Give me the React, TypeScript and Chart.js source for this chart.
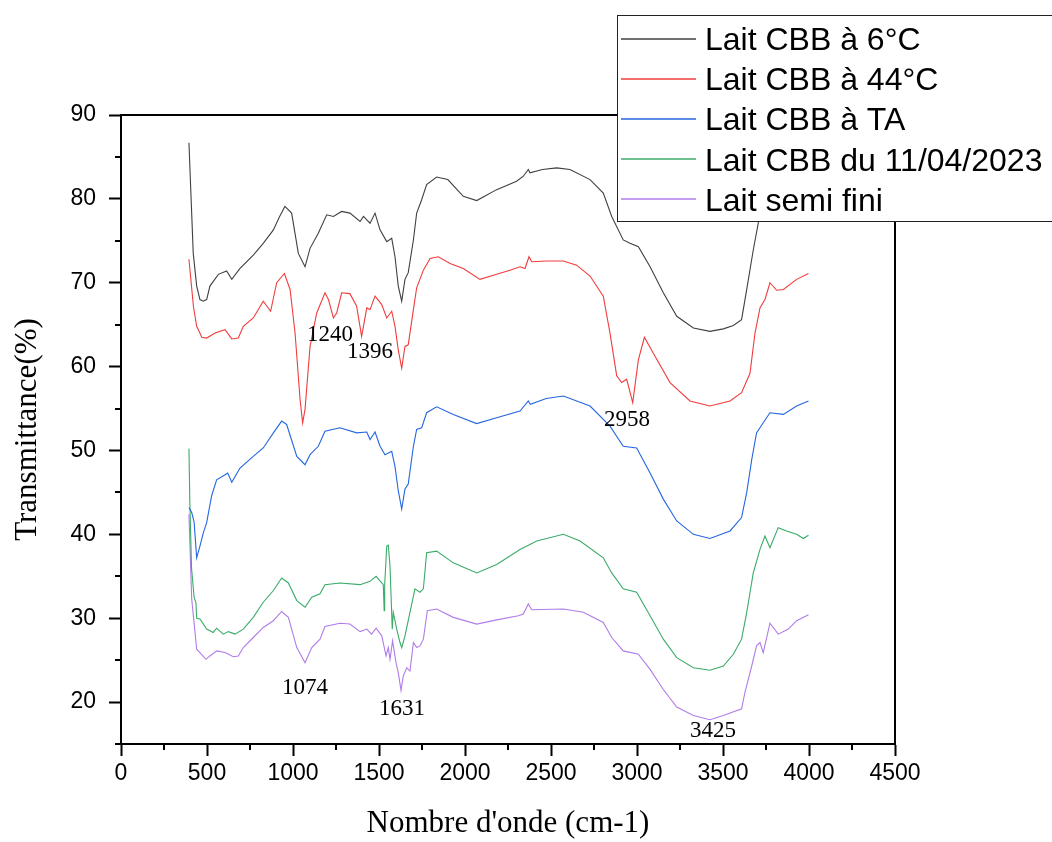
import React, { useEffect, useRef } from "react";
import { Chart, registerables } from "chart.js";

Chart.register(...registerables);

const seriesLabels = [
  "Lait CBB à 6°C",
  "Lait CBB à 44°C",
  "Lait CBB à TA",
  "Lait CBB du 11/04/2023",
  "Lait semi fini",
];
const seriesColors = ["#404040", "#f03c3c", "#2466e0", "#3aab68", "#b07ce8"];

const blackX = [395, 420, 440, 459, 478, 498, 517, 566, 614, 644, 692, 769, 827, 886, 920, 953, 992, 1031, 1070, 1099, 1147, 1196, 1235, 1283, 1331, 1390, 1410, 1429, 1448, 1477, 1506, 1545, 1574, 1593, 1612, 1632, 1651, 1670, 1700, 1719, 1748, 1777, 1835, 1900, 1990, 2068, 2184, 2300, 2339, 2368, 2378, 2450, 2533, 2610, 2727, 2804, 2853, 2920, 2959, 3008, 3076, 3153, 3231, 3328, 3424, 3502, 3560, 3608, 3638, 3676, 3705, 3740, 3780, 3850, 3950, 4000];
const blackY = [86.7, 73.5, 69.6, 68.0, 67.8, 68.0, 69.6, 71.0, 71.4, 70.4, 71.7, 73.3, 74.7, 76.3, 77.8, 79.1, 78.3, 73.5, 71.9, 74.1, 75.9, 78.1, 77.9, 78.5, 78.3, 77.3, 77.9, 77.5, 77.1, 78.3, 76.3, 74.9, 75.3, 73.1, 69.6, 67.8, 70.4, 71.2, 75.1, 78.3, 79.9, 81.7, 82.6, 82.3, 80.3, 79.8, 81.1, 82.1, 82.7, 83.5, 83.1, 83.5, 83.7, 83.5, 82.3, 80.7, 77.9, 75.1, 74.7, 74.3, 71.9, 68.8, 66.0, 64.6, 64.2, 64.5, 64.9, 65.6, 69.2, 73.9, 77.1, 80.5, 82.5, 82.0, 83.0, 83.3];

const redX = [395, 421, 440, 470, 498, 547, 605, 644, 682, 711, 769, 827, 870, 905, 950, 983, 1012, 1041, 1056, 1070, 1099, 1138, 1186, 1206, 1235, 1254, 1283, 1331, 1370, 1399, 1429, 1448, 1477, 1516, 1545, 1574, 1593, 1612, 1632, 1651, 1670, 1700, 1719, 1758, 1797, 1845, 1913, 1990, 2087, 2184, 2262, 2320, 2349, 2372, 2388, 2475, 2572, 2649, 2727, 2804, 2843, 2882, 2911, 2940, 2975, 3008, 3043, 3095, 3192, 3308, 3424, 3541, 3608, 3657, 3686, 3715, 3744, 3773, 3812, 3851, 3928, 3997];
const redY = [72.8, 67.2, 64.8, 63.5, 63.4, 64.0, 64.4, 63.3, 63.4, 64.8, 65.8, 67.8, 66.6, 70.0, 71.1, 69.2, 64.0, 56.1, 53.3, 54.9, 62.4, 66.4, 68.8, 68.0, 65.8, 66.4, 68.8, 68.7, 67.2, 63.6, 67.0, 66.8, 68.4, 67.4, 65.8, 66.6, 64.8, 62.0, 59.8, 62.4, 62.6, 66.8, 69.4, 71.5, 72.9, 73.1, 72.3, 71.7, 70.4, 71.0, 71.5, 71.9, 71.7, 73.1, 72.5, 72.6, 72.6, 72.1, 70.8, 68.4, 64.0, 58.9, 58.1, 58.5, 55.7, 60.8, 63.5, 61.6, 58.1, 55.9, 55.3, 55.9, 56.9, 59.2, 64.0, 67.0, 68.0, 70.0, 69.1, 69.2, 70.4, 71.1];

const blueX = [395, 411, 425, 440, 459, 479, 498, 527, 556, 605, 620, 644, 692, 769, 827, 886, 934, 963, 1022, 1070, 1099, 1147, 1186, 1273, 1370, 1429, 1448, 1477, 1506, 1535, 1574, 1593, 1612, 1632, 1651, 1670, 1700, 1719, 1748, 1777, 1835, 1932, 2068, 2184, 2320, 2368, 2380, 2472, 2572, 2727, 2843, 2920, 2998, 3076, 3153, 3231, 3328, 3424, 3541, 3608, 3638, 3667, 3695, 3734, 3773, 3851, 3928, 3997];
const blueY = [43.2, 42.6, 41.5, 37.2, 38.6, 40.2, 41.4, 44.6, 46.5, 47.1, 47.3, 46.2, 47.9, 49.3, 50.3, 52.1, 53.5, 53.1, 49.3, 48.3, 49.5, 50.5, 52.3, 52.7, 52.1, 52.2, 51.3, 52.2, 50.5, 49.5, 49.9, 48.1, 45.2, 43.0, 45.4, 46.0, 50.5, 52.5, 52.7, 54.5, 55.2, 54.3, 53.2, 53.9, 54.7, 55.9, 55.5, 56.2, 56.5, 55.3, 52.9, 50.5, 50.3, 47.3, 44.2, 41.6, 40.0, 39.5, 40.4, 42.0, 45.0, 48.9, 52.1, 53.3, 54.5, 54.3, 55.3, 55.9];

const greenX = [395, 400, 410, 425, 436, 440, 459, 498, 536, 556, 595, 624, 663, 711, 769, 827, 886, 934, 973, 1022, 1070, 1109, 1157, 1186, 1273, 1390, 1448, 1483, 1525, 1530, 1533, 1545, 1554, 1564, 1577, 1583, 1603, 1622, 1632, 1651, 1680, 1709, 1738, 1758, 1777, 1835, 1932, 2068, 2184, 2320, 2417, 2572, 2669, 2804, 2853, 2920, 2998, 3076, 3153, 3231, 3328, 3424, 3502, 3560, 3608, 3638, 3676, 3715, 3744, 3773, 3821, 3870, 3928, 3967, 3997];
const greenY = [50.2, 44.0, 36.0, 32.5, 31.8, 30.0, 29.9, 28.7, 28.3, 28.8, 28.1, 28.4, 28.1, 28.7, 30.1, 31.9, 33.3, 34.8, 34.2, 32.1, 31.3, 32.5, 32.9, 34.0, 34.2, 34.0, 34.4, 35.0, 34.0, 30.9, 34.0, 38.6, 38.7, 36.2, 28.7, 30.7, 28.7, 27.1, 26.5, 27.9, 30.7, 33.5, 33.1, 33.5, 37.8, 38.0, 36.6, 35.4, 36.4, 38.2, 39.2, 40.0, 39.2, 37.2, 35.4, 33.5, 33.1, 30.3, 27.5, 25.3, 24.1, 23.8, 24.3, 25.7, 27.5, 30.7, 35.4, 38.2, 39.8, 38.4, 40.8, 40.4, 40.0, 39.5, 39.9];

const purpleX = [395, 411, 440, 459, 494, 517, 556, 605, 653, 682, 711, 769, 827, 886, 934, 973, 1022, 1070, 1109, 1157, 1186, 1273, 1331, 1390, 1429, 1457, 1483, 1516, 1541, 1554, 1564, 1579, 1599, 1612, 1628, 1641, 1661, 1680, 1700, 1719, 1738, 1758, 1781, 1835, 1932, 2068, 2184, 2310, 2339, 2368, 2388, 2572, 2688, 2804, 2853, 2920, 3008, 3076, 3153, 3231, 3328, 3424, 3502, 3608, 3628, 3667, 3695, 3715, 3734, 3773, 3821, 3880, 3928, 3997];
const purpleY = [42.4, 32.3, 26.3, 25.9, 25.1, 25.5, 26.1, 25.9, 25.4, 25.5, 26.5, 27.7, 28.9, 29.7, 30.8, 30.1, 26.5, 24.7, 26.5, 27.5, 29.0, 29.4, 29.3, 28.4, 28.7, 28.1, 28.8, 27.9, 25.5, 26.5, 25.1, 27.3, 24.7, 23.5, 21.4, 23.1, 24.1, 23.7, 27.1, 26.5, 26.7, 27.5, 30.9, 31.1, 30.1, 29.3, 29.8, 30.3, 30.5, 31.7, 31.0, 31.1, 30.7, 29.5, 27.7, 26.1, 25.7, 23.9, 21.5, 19.4, 18.4, 17.9, 18.4, 19.2, 21.2, 24.3, 26.7, 27.1, 25.9, 29.4, 28.1, 28.7, 29.7, 30.4];

const peakLabels = ["1240", "1396", "2958", "1074", "1631", "3425"];
const peakLabelX = [1215, 1448, 2942, 1070, 1634, 3442];
const peakLabelY = [63.8, 61.8, 53.6, 21.7, 19.2, 16.5];

const xTitle = "Nombre d'onde (cm-1)";
const yTitle = "Transmittance(%)";

const SANS = "'Liberation Sans', Arial, sans-serif";
const SERIF = "'Liberation Serif', 'Times New Roman', serif";

const seriesX = [blackX, redX, blueX, greenX, purpleX];
const seriesY = [blackY, redY, blueY, greenY, purpleY];

const extrasPlugin = {
  id: "extras",
  afterDraw(chart: any) {
    const ctx = chart.ctx;
    const xs = chart.scales.x;
    const ys = chart.scales.y;
    const area = chart.chartArea;
    ctx.save();
    ctx.strokeStyle = "#000";
    ctx.lineWidth = 2;
    ctx.beginPath();
    ctx.moveTo(area.left, area.top);
    ctx.lineTo(area.right, area.top);
    ctx.lineTo(area.right, area.bottom);
    ctx.stroke();
    ctx.beginPath();
    for (let v = 250; v < 4500; v += 500) {
      const px = Math.round(xs.getPixelForValue(v));
      ctx.moveTo(px, area.bottom);
      ctx.lineTo(px, area.bottom + 6);
    }
    for (let v = 15; v < 90; v += 10) {
      const py = Math.round(ys.getPixelForValue(v));
      ctx.moveTo(area.left, py);
      ctx.lineTo(area.left - 6, py);
    }
    ctx.stroke();
    ctx.fillStyle = "#000";
    ctx.font = `23px ${SERIF}`;
    ctx.textAlign = "center";
    ctx.textBaseline = "middle";
    peakLabels.forEach((t, i) => {
      ctx.fillText(t, xs.getPixelForValue(peakLabelX[i]), ys.getPixelForValue(peakLabelY[i]));
    });
    const lx = 617.5, ly = 15.5, lw = 445, lh = 206;
    ctx.fillStyle = "#fff";
    ctx.fillRect(lx, ly, lw, lh);
    ctx.strokeStyle = "#222";
    ctx.lineWidth = 1;
    ctx.strokeRect(lx, ly, lw, lh);
    ctx.font = `32px ${SANS}`;
    ctx.textAlign = "left";
    ctx.textBaseline = "alphabetic";
    seriesLabels.forEach((lab, i) => {
      const ry = 38.5 + i * 40.2;
      ctx.strokeStyle = seriesColors[i];
      ctx.lineWidth = 1.4;
      ctx.beginPath();
      ctx.moveTo(621, Math.round(ry));
      ctx.lineTo(696, Math.round(ry));
      ctx.stroke();
      ctx.fillStyle = "#000";
      ctx.fillText(lab, 705, ry + 11.5);
    });
    ctx.restore();
  },
};

export default function App() {
  const ref = useRef<HTMLCanvasElement | null>(null);
  useEffect(() => {
    if (!ref.current) return;
    const datasets = seriesLabels.map((label, i) => ({
      label,
      data: seriesX[i].map((x, j) => ({ x, y: seriesY[i][j] })),
      borderColor: seriesColors[i],
      backgroundColor: seriesColors[i],
      borderWidth: 1.1,
      pointRadius: 0,
      tension: 0,
      fill: false,
    }));
    const chart = new Chart(ref.current, {
      type: "line",
      data: { datasets },
      options: {
        animation: false,
        responsive: false,
        maintainAspectRatio: false,
        layout: { padding: { top: 115, right: 157, left: 0, bottom: 0 } },
        plugins: { legend: { display: false }, tooltip: { enabled: false }, title: { display: false } },
        scales: {
          x: {
            type: "linear",
            min: 0,
            max: 4500,
            afterFit: (s: any) => { s.height = 98; },
            ticks: {
              stepSize: 500,
              color: "#000",
              font: { family: SANS, size: 23 },
              padding: 4,
              maxRotation: 0,
              autoSkip: false,
              callback: (v: any) => String(v),
            },
            grid: { drawOnChartArea: false, drawTicks: true, tickLength: 12, tickWidth: 2, tickColor: "#000" },
            border: { display: true, color: "#000", width: 2 },
            title: { display: true, text: xTitle, color: "#000", font: { family: SERIF, size: 31 }, padding: { top: 0, bottom: 0 } },
          },
          y: {
            type: "linear",
            min: 15,
            max: 90,
            afterFit: (s: any) => { s.width = 121; },
            ticks: { stepSize: 10, includeBounds: false, color: "#000", font: { family: SANS, size: 23 }, padding: 13, callback: (v: any) => String(v) },
            grid: { drawOnChartArea: false, drawTicks: true, tickLength: 12, tickWidth: 2, tickColor: "#000" },
            border: { display: true, color: "#000", width: 2 },
            title: { display: true, text: yTitle, color: "#000", font: { family: SERIF, size: 31 }, padding: { top: 9, bottom: 0 } },
          },
        },
      },
      plugins: [extrasPlugin],
    });
    return () => chart.destroy();
  }, []);
  return (
    <div style={{ position: "fixed", left: 0, top: 0, width: 1052, height: 842, background: "#fff" }}>
      <canvas ref={ref} width={1052} height={842} style={{ display: "block" }} />
    </div>
  );
}
